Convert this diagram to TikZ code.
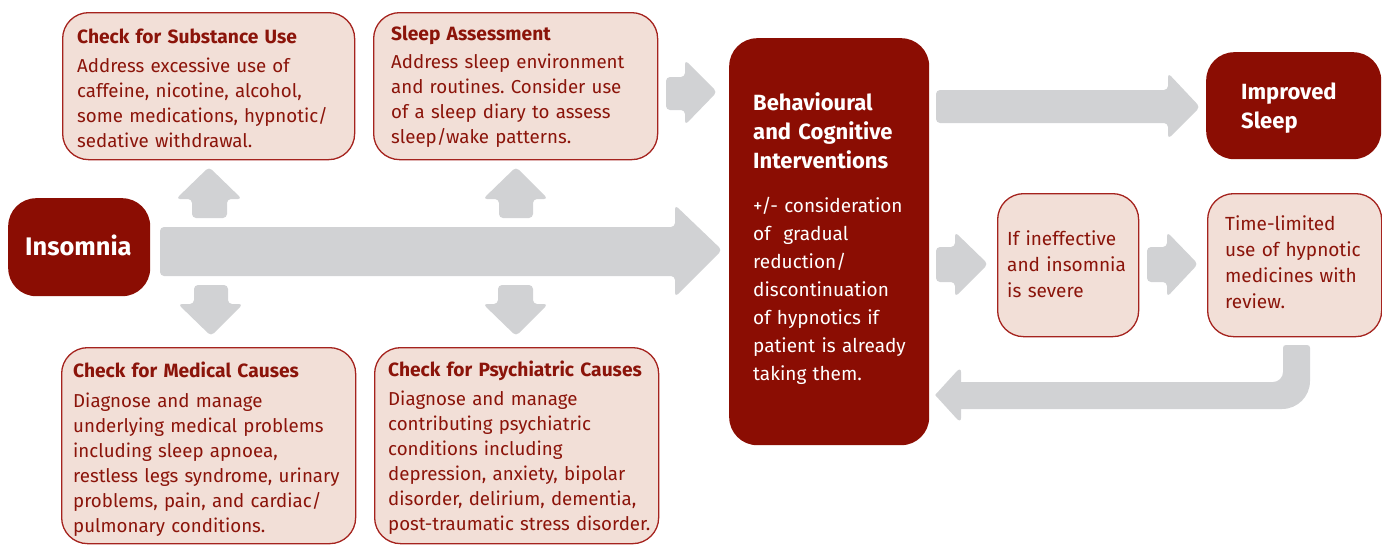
\documentclass[tikz,border=0pt]{standalone}
\usepackage{fontspec}
\setmainfont{Fira Sans}
\frenchspacing
\definecolor{dred}{RGB}{139,13,3}
\definecolor{lfill}{RGB}{242,223,215}
\definecolor{lborder}{RGB}{165,35,30}
\definecolor{agrey}{RGB}{209,210,212}
\definecolor{ltext}{RGB}{139,20,10}
\newcommand{\ttl}[1]{{\fontsize{19.2}{25}\selectfont\bfseries #1}}
\begin{document}
\begin{tikzpicture}[x=1pt,y=-1pt,
  lightbox/.style={draw=lborder, line width=1.3pt, fill=lfill, rounded corners=26pt, inner sep=0pt, anchor=north west},
  darkbox/.style={fill=dred, rounded corners=28pt, inner sep=0pt, anchor=north west},
  ltxt/.style={anchor=base west, inner sep=0pt, align=left, text width=300pt, text=ltext, font=\fontsize{18.7}{25}\selectfont},
  dtxt/.style={anchor=base west, inner sep=0pt, align=left, text width=200pt, text=white},
  blockarrow/.style={fill=agrey, rounded corners=4pt}]
\useasboundingbox (0,0) rectangle (1382,544);

% boxes
\node[lightbox, minimum width=292pt, minimum height=147pt] (subst) at (62,12) {};
\node[lightbox, minimum width=284pt, minimum height=147pt] (sleep) at (373,12) {};
\node[darkbox, minimum width=142pt, minimum height=98pt] (insom) at (8,198) {};
\node[lightbox, minimum width=294pt, minimum height=196pt] (med) at (61,347) {};
\node[lightbox, minimum width=284pt, minimum height=196pt] (psych) at (374,347) {};
\node[darkbox, minimum width=200pt, minimum height=407pt] (behav) at (729,38) {};
\node[darkbox, minimum width=175pt, minimum height=107pt] (improved) at (1206,52) {};
\node[lightbox, minimum width=141pt, minimum height=143pt] (ineff) at (997,193) {};
\node[lightbox, minimum width=174pt, minimum height=143pt] (timeltd) at (1207,193) {};

% texts
\node[ltxt] (substT) at (77,43) {\ttl{Check for Substance Use}\\[4pt]
Address excessive use of\\caffeine, nicotine, alcohol,\\some medications, hypnotic/\\sedative withdrawal.};
\node[ltxt] (sleepT) at (391,40) {\ttl{Sleep Assessment}\\[3pt]
Address sleep environment\\and routines. Consider use\\of a sleep diary to assess\\sleep/wake patterns.};
\node[ltxt] (medT) at (73,377) {\ttl{Check for Medical Causes}\\[5pt]
Diagnose and manage\\underlying medical problems\\including sleep apnoea,\\restless legs syndrome, urinary\\problems, pain, and cardiac/\\pulmonary conditions.};
\node[ltxt] (psychT) at (388,376) {\ttl{Check for Psychiatric Causes}\\[4pt]
Diagnose and manage\\contributing psychiatric\\conditions including\\depression, anxiety, bipolar\\disorder, delirium, dementia,\\post-traumatic stress disorder.};
\node[dtxt, font=\fontsize{25.4}{29}\selectfont\bfseries] (insomT) at (25,255) {Insomnia};
\node[dtxt, font=\fontsize{22}{29}\selectfont\bfseries] (behavT) at (753,110) {Behavioural\\and Cognitive\\Interventions};
\node[dtxt, font=\fontsize{19}{28}\selectfont] (behavB) at (753,212) {+/- consideration\\of\ \ gradual\\reduction/\\discontinuation\\of hypnotics if\\patient is already\\taking them.};
\node[dtxt, font=\fontsize{22}{29}\selectfont\bfseries] (improvedT) at (1241,99) {Improved\\Sleep};
\node[ltxt, font=\fontsize{19}{26}\selectfont] (ineffT) at (1007,245) {If ineffective\\and insomnia\\is severe};
\node[ltxt, font=\fontsize{19}{26}\selectfont] (timeT) at (1225,230) {Time-limited\\use of hypnotic\\medicines with\\review.};

% block arrows
% Insomnia -> Behavioural
\fill[blockarrow] (160,227) -- (675,227) -- (675,205) -- (722,250) -- (675,297) -- (675,276) -- (160,276) -- cycle;
% up arrows
\fill[blockarrow] (192,218) -- (192,199) -- (176,199) -- (209,167) -- (242,199) -- (227,199) -- (227,218) -- cycle;
\fill[blockarrow] (499,218) -- (499,199) -- (483,199) -- (516,167) -- (548,199) -- (533,199) -- (533,218) -- cycle;
% down arrows
\fill[blockarrow] (194,285) -- (194,304) -- (178,304) -- (211,336) -- (243,304) -- (228,304) -- (228,285) -- cycle;
\fill[blockarrow] (498,285) -- (498,304) -- (483,304) -- (516,336) -- (548,304) -- (533,304) -- (533,285) -- cycle;
% sleep -> behavioural
\fill[blockarrow] (666,77) -- (685,77) -- (685,60) -- (717,92) -- (685,125) -- (685,110) -- (666,110) -- cycle;
% behavioural -> improved
\fill[blockarrow] (936,90) -- (1168,90) -- (1168,73) -- (1200,107) -- (1168,139) -- (1168,123) -- (936,123) -- cycle;
% behavioural -> ineffective
\fill[blockarrow] (936,247) -- (955,247) -- (955,232) -- (988,264) -- (955,297) -- (955,282) -- (936,282) -- cycle;
% ineffective -> time-limited
\fill[blockarrow] (1147,247) -- (1167,247) -- (1167,232) -- (1198,264) -- (1167,297) -- (1167,282) -- (1147,282) -- cycle;
% return arrow
\fill[fill=agrey] (1286,345) -- (1307,345) .. controls (1309,345) and (1310,346) .. (1310,348)
  -- (1310,381) .. controls (1310,396.5) and (1297.5,409) .. (1282,409)
  -- (961,409) -- (961,418) .. controls (961,421) and (959,421) .. (957,419)
  -- (936,396) .. controls (935,395) and (935,395) .. (936,394)
  -- (957,371) .. controls (959,369) and (961,369) .. (961,372)
  -- (961,382) -- (1273,382) .. controls (1278.5,382) and (1283,377.5) .. (1283,372)
  -- (1283,348) .. controls (1283,346) and (1284,345) .. (1286,345) -- cycle;
\end{tikzpicture}
\end{document}
